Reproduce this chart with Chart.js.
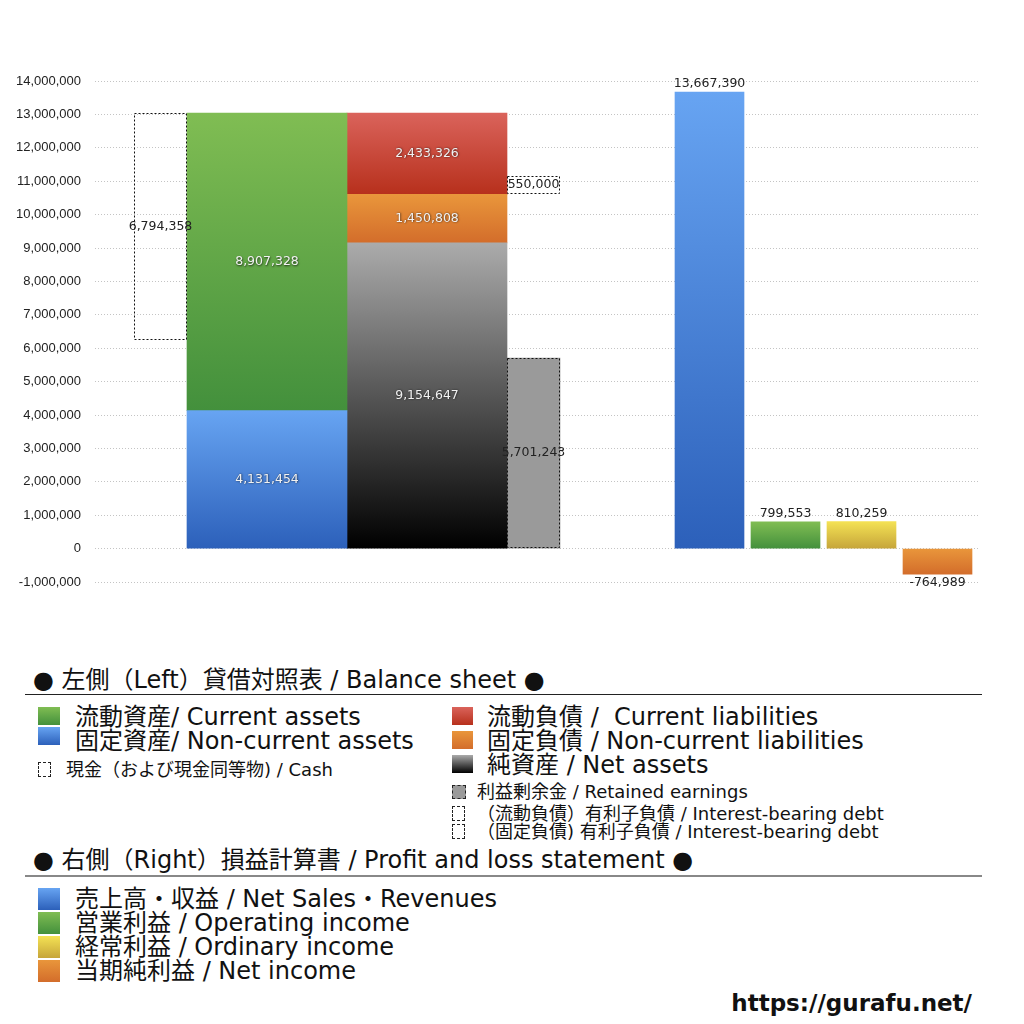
<!DOCTYPE html>
<html>
<head>
<meta charset="utf-8">
<script src="https://cdn.jsdelivr.net/npm/chart.js@4/dist/chart.umd.min.js"></script>
<style>
  body { margin: 0; background: #fff; font-family: 'DejaVu Sans', 'Noto Sans CJK JP', sans-serif; color: #111; }
  #page { position: relative; width: 1024px; height: 1024px; overflow: hidden; }
  #chartBox { position: absolute; left: 0; top: 0; width: 1024px; height: 640px; }
  .row { position: absolute; white-space: nowrap; line-height: 26px; height: 26px; }
  .big { font-size: 24px; }
  .small { font-size: 18px; }
  .sw { position: absolute; }
  .rule { position: absolute; left: 25px; width: 957px; }
</style>
</head>
<body>
<div id="page">
  <div id="chartBox"><canvas id="bsChart"></canvas></div>
  <div id="legend"></div>
</div>
<script>
// Balance sheet (left side)
const assetLabels = ['流動資産', '固定資産'];
const assetValues = [8907328, 4131454];              // current, non-current
const liabLabels = ['流動負債', '固定負債', '純資産'];
const liabValues = [2433326, 1450808, 9154647];       // current liab, non-current liab, net assets
const cashValue = 6794358;
const retainedEarnings = 5701243;
const interestDebt = [550000, 0];                     // (current), (non-current)

// Profit and loss statement (right side)
const plLabels = ['売上高・収益', '営業利益', '経常利益', '当期純利益'];
const plValues = [13667390, 799553, 810259, -764989];

// y axis
const yMin = -1000000, yMax = 14000000, yStep = 1000000;

// column layout inside the plot area (px): offsets and widths
const bsStart = 39, bsWidths = [53, 160, 160, 53];
const plStart = 580, plWidth = 69, plGap = 7;
const plotWidth = 885;

const bsCenters = [];
let acc = bsStart;
bsWidths.forEach(w => { bsCenters.push(acc + w / 2); acc += w; });
const plCenters = plValues.map((v, i) => plStart + i * (plWidth + plGap) + plWidth / 2);

// vertical gradient fill for a bar, worked out from its own value range
function vGrad(top, bottom) {
  return function (ctx) {
    const chart = ctx.chart;
    if (!chart.chartArea || ctx.type !== 'data') return bottom;
    const v = ctx.raw.y;
    const lo = Array.isArray(v) ? Math.min(v[0], v[1]) : Math.min(0, v);
    const hi = Array.isArray(v) ? Math.max(v[0], v[1]) : Math.max(0, v);
    const y = chart.scales.y;
    const g = chart.ctx.createLinearGradient(0, y.getPixelForValue(hi), 0, y.getPixelForValue(lo));
    g.addColorStop(0, top);
    g.addColorStop(1, bottom);
    return g;
  };
}

const GREEN = ['#80bd53', '#43903c'];
const BLUE = ['#67a4f2', '#2c60ba'];
const RED = ['#da635b', '#b7301c'];
const ORANGE = ['#e9963b', '#d36d2b'];
const GRAY = ['#ababab', '#000000'];
const YELLOW = ['#f4e254', '#c6a53a'];

const nca = assetValues[1], ca = assetValues[0];
const cl = liabValues[0], ncl = liabValues[1], na = liabValues[2];
const totalAssets = nca + ca;

function bar(label, x, w, y, fill, extra) {
  return Object.assign({
    label: label,
    data: [{ x: x, y: y }],
    barThickness: w,
    backgroundColor: fill,
    borderWidth: 0,
    grouped: false
  }, extra || {});
}

const datasets = [
  bar('現金', bsCenters[0], bsWidths[0], [totalAssets - cashValue, totalAssets], 'rgba(255,255,255,0)',
    { dashed: true, valueLabel: cashValue, labelStyle: 'dark' }),
  bar(assetLabels[1], bsCenters[1], bsWidths[1], [0, nca], vGrad(BLUE[0], BLUE[1]),
    { valueLabel: nca, labelStyle: 'light' }),
  bar(assetLabels[0], bsCenters[1], bsWidths[1], [nca, nca + ca], vGrad(GREEN[0], GREEN[1]),
    { valueLabel: ca, labelStyle: 'light' }),
  bar(liabLabels[2], bsCenters[2], bsWidths[2], [0, na], vGrad(GRAY[0], GRAY[1]),
    { valueLabel: na, labelStyle: 'light' }),
  bar(liabLabels[1], bsCenters[2], bsWidths[2], [na, na + ncl], vGrad(ORANGE[0], ORANGE[1]),
    { valueLabel: ncl, labelStyle: 'light' }),
  bar(liabLabels[0], bsCenters[2], bsWidths[2], [na + ncl, na + ncl + cl], vGrad(RED[0], RED[1]),
    { valueLabel: cl, labelStyle: 'light' }),
  bar('利益剰余金', bsCenters[3], bsWidths[3], [0, retainedEarnings], '#9a9a9a',
    { dashed: true, valueLabel: retainedEarnings, labelStyle: 'dark' }),
  bar('有利子負債', bsCenters[3], bsWidths[3], [na + ncl, na + ncl + interestDebt[0]], '#ffffff',
    { dashed: true, valueLabel: interestDebt[0], labelStyle: 'dark' })
];

const plColors = [BLUE, GREEN, YELLOW, ORANGE];
plValues.forEach((v, i) => {
  datasets.push(bar(plLabels[i], plCenters[i], plWidth, v, vGrad(plColors[i][0], plColors[i][1]),
    { valueLabel: v, labelStyle: 'outside' }));
});

// dashed outlines and value labels
const barDecor = {
  id: 'barDecor',
  afterDatasetsDraw(chart) {
    const c = chart.ctx;
    chart.data.datasets.forEach((ds, di) => {
      const meta = chart.getDatasetMeta(di);
      meta.data.forEach(el => {
        const top = Math.min(el.y, el.base), bottom = Math.max(el.y, el.base);
        const left = el.x - el.width / 2;
        if (ds.dashed) {
          c.save();
          c.strokeStyle = '#111';
          c.lineWidth = 1;
          c.setLineDash([2, 2]);
          c.strokeRect(Math.round(left) + 0.5, Math.round(top) + 0.5, Math.round(el.width) - 1, Math.round(bottom - top) - 1);
          c.restore();
        }
        if (ds.valueLabel === undefined) return;
        const text = ds.valueLabel.toLocaleString('en-US');
        c.save();
        c.font = '12.5px "DejaVu Sans", sans-serif';
        c.textAlign = 'center';
        c.textBaseline = 'middle';
        let ty = (top + bottom) / 2;
        if (ds.labelStyle === 'outside') {
          ty = ds.valueLabel >= 0 ? top - 8 : bottom + 9;
          c.fillStyle = '#222';
        } else if (ds.labelStyle === 'light') {
          c.fillStyle = '#f2f2f2';
          c.shadowColor = 'rgba(0,0,0,0.75)';
          c.shadowBlur = 2;
          c.shadowOffsetX = 0.5;
          c.shadowOffsetY = 0.5;
        } else {
          c.fillStyle = '#222';
        }
        c.fillText(text, el.x, ty);
        c.restore();
      });
    });
  }
};

new Chart(document.getElementById('bsChart'), {
  type: 'bar',
  data: { datasets: datasets },
  options: {
    responsive: true,
    maintainAspectRatio: false,
    animation: false,
    layout: { padding: { top: 81, right: 44, bottom: 58, left: 0 } },
    plugins: { legend: { display: false }, tooltip: { enabled: false } },
    scales: {
      x: { type: 'linear', min: 0, max: plotWidth, offset: false, display: false },
      y: {
        min: yMin, max: yMax,
        afterFit(scale) { scale.width = 95; },
        border: { display: false, dash: [1, 2] },
        grid: { color: '#c4c4c4', drawTicks: false },
        ticks: {
          stepSize: yStep,
          padding: 14,
          color: '#222',
          font: { family: '"Liberation Sans", "Noto Sans", sans-serif', size: 13 },
          callback: v => v.toLocaleString('en-US')
        }
      }
    }
  },
  plugins: [barDecor]
});

// legend below the chart
const legend = document.getElementById('legend');
function grad(col) { return 'linear-gradient(' + col[0] + ',' + col[1] + ')'; }
function addRow(text, left, center, cls, extra) {
  const d = document.createElement('div');
  d.className = 'row ' + cls;
  d.style.left = left + 'px';
  d.style.top = (center - 13) + 'px';
  d.textContent = text;
  if (extra) Object.assign(d.style, extra);
  legend.appendChild(d);
  return d;
}
function addSwatch(left, top, w, h, fill, dashed) {
  const s = document.createElement('div');
  s.className = 'sw';
  Object.assign(s.style, { left: left + 'px', top: top + 'px', width: w + 'px', height: h + 'px', background: fill });
  if (dashed) { s.style.border = '1px dashed #222'; s.style.boxSizing = 'border-box'; }
  legend.appendChild(s);
}
function addRule(top, color, h) {
  const r = document.createElement('div');
  r.className = 'rule';
  Object.assign(r.style, { top: top + 'px', height: h + 'px', background: color });
  legend.appendChild(r);
}

addRow('● 左側（Left）貸借対照表 / Balance sheet ●', 33, 680, 'big');
addRule(694, '#222', 1);
addSwatch(38, 707, 22, 18, grad(GREEN));
addRow('流動資産/ Current assets', 75, 717, 'big');
addSwatch(38, 727, 22, 18, grad(BLUE));
addRow('固定資産/ Non-current assets', 75, 741, 'big');
addSwatch(38, 762, 13, 15, '#fff', true);
addRow('現金（および現金同等物) / Cash', 66, 770, 'small');

addSwatch(452, 707, 21, 18, grad(RED));
addRow('流動負債 /  Current liabilities', 487, 717, 'big', { whiteSpace: 'pre' });
addSwatch(452, 731, 21, 18, grad(ORANGE));
addRow('固定負債 / Non-current liabilities', 487, 741, 'big');
addSwatch(452, 755, 21, 18, grad(GRAY));
addRow('純資産 / Net assets', 487, 765, 'big');
addSwatch(452, 785, 14, 14, '#9a9a9a', true);
addRow('利益剰余金 / Retained earnings', 477, 792, 'small');
addSwatch(452, 806, 13, 15, '#fff', true);
addRow('（流動負債）有利子負債 / Interest-bearing debt', 477, 814, 'small');
addSwatch(452, 824, 13, 15, '#fff', true);
addRow('（固定負債) 有利子負債 / Interest-bearing debt', 477, 832, 'small');

addRow('● 右側（Right）損益計算書 / Profit and loss statement ●', 33, 860, 'big');
addRule(875, '#888', 2);
plLabels.forEach((lab, i) => {
  const en = ['Net Sales・Revenues', 'Operating income', 'Ordinary income', 'Net income'][i];
  addSwatch(38, 888 + i * 24, 22, 22, grad(plColors[i]));
  addRow(lab + ' / ' + en, 75, 899 + i * 24, 'big');
});
addRow('https://gurafu.net/', 0, 1003, 'big', { left: 'auto', right: '52px', fontWeight: 'bold', fontSize: '23px' });
</script>
</body>
</html>
